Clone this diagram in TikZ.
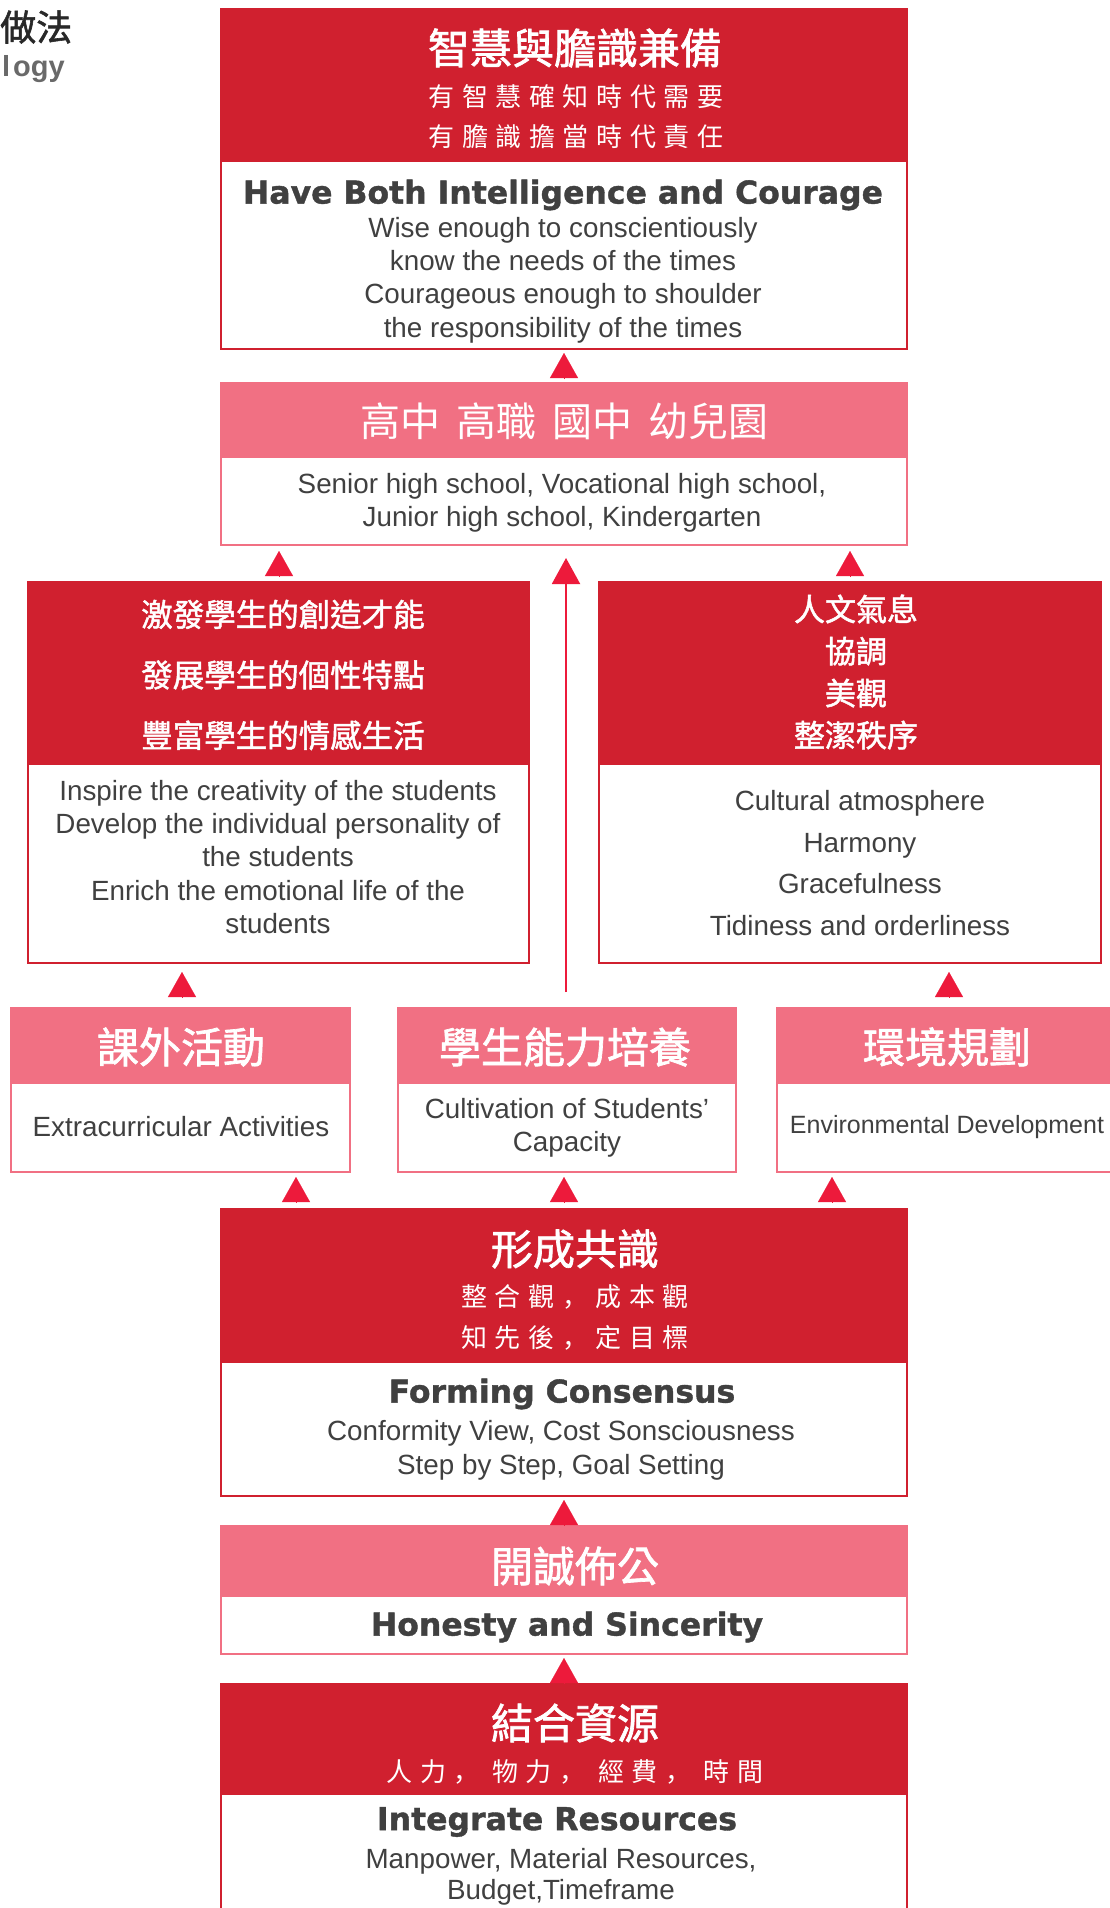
\documentclass[tikz,border=0pt]{standalone}
\usepackage{fontspec}
\setmainfont{Liberation Sans}
\newfontfamily\cjk{Noto Sans CJK TC}
\newfontfamily\cjkm{Noto Sans CJK TC}[FakeBold=1.6]
\newfontfamily\cjksc{Noto Sans CJK SC}
\newfontfamily\heavy{DejaVu Sans Bold}[FakeBold=1.2]
\usetikzlibrary{arrows.meta}
\definecolor{cred}{RGB}{208,32,47}
\definecolor{cpink}{RGB}{241,112,131}
\definecolor{carrow}{RGB}{237,26,59}
\definecolor{cgray}{RGB}{64,64,64}
\definecolor{cdark}{RGB}{40,40,40}
\definecolor{cmid}{RGB}{105,105,105}
\ExplSyntaxOn
\NewDocumentCommand\spaced{ O{7.6pt} m }
  { \tl_map_inline:nn {#2} { ##1 \hspace{#1} } \unskip }
\ExplSyntaxOff
\newcommand\cm{{\cjksc ，}}
\tikzset{
  box/.style={draw, line width=1.2pt, fill=white, outer sep=0pt, inner sep=0pt, anchor=north west},
  hdr/.style={outer sep=0pt, inner sep=0pt, anchor=north west},
  txt/.style={inner sep=0pt, outer sep=0pt, align=center, text=cgray},
  wtxt/.style={inner sep=0pt, outer sep=0pt, align=center, text=white},
  tri/.style={draw=carrow, line width=0.1pt, -{Triangle[width=28pt,length=25pt]}},
  longconn/.style={draw=carrow, line width=2pt, -{Triangle[width=28pt,length=26pt]}},
  cjktitle/.style={font=\cjkm\fontsize{42}{42}\selectfont},
  cjksub/.style={font=\cjk\fontsize{26}{41}\selectfont},
  engbold/.style={font=\heavy\fontsize{31.5}{36}\selectfont},
  engbody/.style={font=\fontsize{27.8}{33.3}\selectfont},
}
\begin{document}
\begin{tikzpicture}[x=1pt,y=-1pt]
\useasboundingbox (0,0) rectangle (1110,1908);
\clip (0,0) rectangle (1110,1908);
\fill[white] (0,0) rectangle (1110,1908);

% cut-off title
\node[anchor=west, inner sep=0pt, font=\cjkm\fontsize{36}{36}\selectfont, text=cdark] (ttla) at (0,27) {做法};
\node[anchor=base west, inner sep=0pt, font=\bfseries\fontsize{29}{29}\selectfont, text=cmid] (ttlb) at (2,77) {l\kern3pt ogy};

% ---- box 1
\node[box, draw=cred, minimum width=686pt, minimum height=340pt] (b1) at (221,9) {};
\node[hdr, fill=cred, minimum width=686pt, minimum height=153pt] (b1h) at (221,9) {};
\node[wtxt, cjktitle] (t1a) at (575,48) {智慧與膽識兼備};
\node[wtxt, font=\cjk\fontsize{26}{40}\selectfont] (t1b) at (576,117) {\spaced{有智慧確知時代需要}\\\spaced{有膽識擔當時代責任}};
\node[txt, engbold] (t1c) at (563,195) {Have Both Intelligence and Courage};
\node[txt, engbody] (t1d) at (563,280) {Wise enough to conscientiously\\know the needs of the times\\Courageous enough to shoulder\\the responsibility of the times};

% ---- box 2
\node[box, draw=cpink, minimum width=686pt, minimum height=162pt] (b2) at (221,383) {};
\node[hdr, fill=cpink, minimum width=686pt, minimum height=75pt] (b2h) at (221,383) {};
\node[wtxt, font=\cjk\fontsize{40}{40}\selectfont] (t2a) at (564,421) {高中\hspace{16pt}高職\hspace{16pt}國中\hspace{16pt}幼兒園};
\node[txt, engbody] (t2b) at (562,503) {Senior high school, Vocational high school,\\Junior high school, Kindergarten};

% ---- box 3 left
\node[box, draw=cred, minimum width=501pt, minimum height=381pt] (b3l) at (28,582) {};
\node[hdr, fill=cred, minimum width=501pt, minimum height=183pt] (b3lh) at (28,582) {};
\node[wtxt, font=\cjkm\fontsize{31.5}{60.5}\selectfont] (t3a) at (283,675) {激發學生的創造才能\\發展學生的個性特點\\豐富學生的情感生活};
\node[txt, engbody] (t3b) at (278,857) {Inspire the creativity of the students\\Develop the individual personality of\\the students\\Enrich the emotional life of the\\students};

% ---- box 3 right
\node[box, draw=cred, minimum width=502pt, minimum height=381pt] (b3r) at (599,582) {};
\node[hdr, fill=cred, minimum width=502pt, minimum height=183pt] (b3rh) at (599,582) {};
\node[wtxt, font=\cjkm\fontsize{31}{42}\selectfont] (t3c) at (856,672) {人文氣息\\協調\\美觀\\整潔秩序};
\node[txt, font=\fontsize{27.8}{41.5}\selectfont] (t3d) at (860,863) {Cultural atmosphere\\Harmony\\Gracefulness\\Tidiness and orderliness};

% ---- row 4
\node[box, draw=cpink, minimum width=339pt, minimum height=164pt] (b4l) at (11,1008) {};
\node[hdr, fill=cpink, minimum width=339pt, minimum height=76pt] (b4lh) at (11,1008) {};
\node[wtxt, cjktitle] (t4a) at (181,1047) {課外活動};
\node[txt, engbody] (t4b) at (181,1127) {Extracurricular Activities};

\node[box, draw=cpink, minimum width=338pt, minimum height=164pt] (b4m) at (398,1008) {};
\node[hdr, fill=cpink, minimum width=338pt, minimum height=76pt] (b4mh) at (398,1008) {};
\node[wtxt, cjktitle] (t4c) at (565,1047) {學生能力培養};
\node[txt, engbody] (t4d) at (567,1128) {Cultivation of Students’\\Capacity};

\node[box, draw=cpink, minimum width=340pt, minimum height=164pt] (b4r) at (777,1008) {};
\node[hdr, fill=cpink, minimum width=340pt, minimum height=76pt] (b4rh) at (777,1008) {};
\node[wtxt, cjktitle] (t4e) at (947,1047) {環境規劃};
\node[txt, font=\fontsize{25}{30}\selectfont] (t4f) at (947,1127) {Environmental Development};

% ---- box 5
\node[box, draw=cred, minimum width=686pt, minimum height=287pt] (b5) at (221,1209) {};
\node[hdr, fill=cred, minimum width=686pt, minimum height=154pt] (b5h) at (221,1209) {};
\node[wtxt, cjktitle] (t5a) at (575,1249) {形成共識};
\node[wtxt, cjksub] (t5b) at (575,1317) {\spaced{整合觀{\cm}成本觀}\\\spaced{知先後{\cm}定目標}};
\node[txt, engbold] (t5c) at (562,1394) {Forming Consensus};
\node[txt, font=\fontsize{27.8}{34}\selectfont] (t5d) at (561,1450) {Conformity View, Cost Sonsciousness\\Step by Step, Goal Setting};

% ---- box 6
\node[box, draw=cpink, minimum width=686pt, minimum height=128pt] (b6) at (221,1526) {};
\node[hdr, fill=cpink, minimum width=686pt, minimum height=71pt] (b6h) at (221,1526) {};
\node[wtxt, cjktitle] (t6a) at (575,1566) {開誠佈公};
\node[txt, engbold] (t6b) at (567,1627) {Honesty and Sincerity};

% ---- box 7
\node[box, draw=cred, minimum width=686pt, minimum height=256pt] (b7) at (221,1684) {};
\node[hdr, fill=cred, minimum width=686pt, minimum height=111pt] (b7h) at (221,1684) {};
\node[wtxt, cjktitle] (t7a) at (575,1723) {結合資源};
\node[wtxt, cjksub] (t7b) at (575,1772) {\spaced{人力{\cm\hspace{5pt}}物力{\cm\hspace{5pt}}經費{\cm\hspace{5pt}}時間}};
\node[txt, engbold] (t7c) at (557,1822) {Integrate Resources};
\node[txt, font=\fontsize{27.8}{31.5}\selectfont] (t7d) at (561,1877) {Manpower, Material Resources,\\Budget,Timeframe};

% ---- connectors
\coordinate (xa) at (564,0);
\coordinate (xb) at (279,0);
\coordinate (xc) at (850,0);
\coordinate (xd) at (566,0);
\coordinate (xe) at (182,0);
\coordinate (xf) at (949,0);
\coordinate (xg) at (296,0);
\coordinate (xh) at (564,0);
\coordinate (xi) at (832,0);

\draw[tri, shorten <=4pt, shorten >=4pt] (b2.north -| xa) -- (b1.south -| xa);
\draw[tri, shorten <=5pt, shorten >=6pt] (b3l.north -| xb) -- (b2.south -| xb);
\draw[tri, shorten <=5pt, shorten >=6pt] (b3r.north -| xc) -- (b2.south -| xc);
\draw[longconn, shorten <=16pt, shorten >=13pt] (b4m.north -| xd) -- (b2.south -| xd);
\draw[tri, shorten <=11pt, shorten >=9pt] (b4l.north -| xe) -- (b3l.south -| xe);
\draw[tri, shorten <=11pt, shorten >=9pt] (b4r.north -| xf) -- (b3r.south -| xf);
\draw[tri, shorten <=7pt, shorten >=5pt] (b5.north -| xg) -- (b4l.south -| xg);
\draw[tri, shorten <=7pt, shorten >=5pt] (b5.north -| xh) -- (b4m.south -| xh);
\draw[tri, shorten <=7pt, shorten >=5pt] (b5.north -| xi) -- (b4r.south -| xi);
\draw[tri, shorten <=1pt, shorten >=4pt] (b6.north -| xa) -- (b5.south -| xa);
\draw[tri, shorten <=1pt, shorten >=4pt] (b7.north -| xa) -- (b6.south -| xa);
\end{tikzpicture}
\end{document}
